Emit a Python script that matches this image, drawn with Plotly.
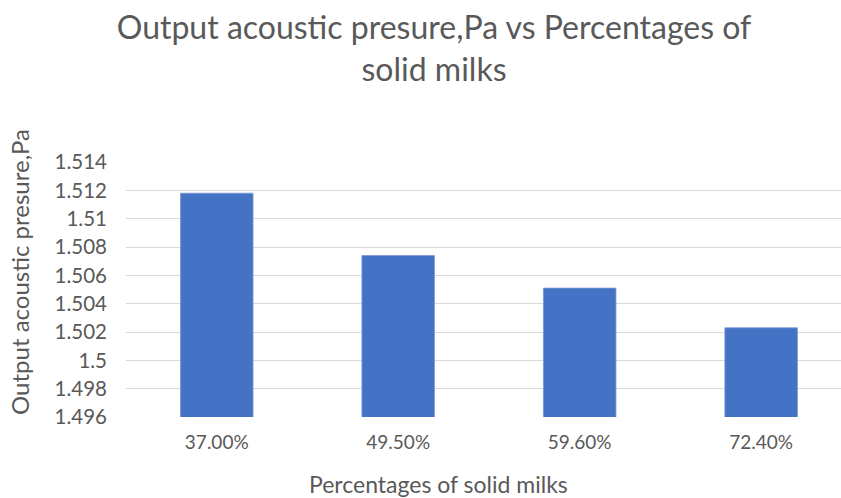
import plotly.graph_objects as go

# Solid-milk percentages and the measured output acoustic pressure (Pa)
categories = ["37.00%", "49.50%", "59.60%", "72.40%"]
pressure_pa = [1.5118, 1.5074, 1.5051, 1.5023]
y_ticks = [1.496, 1.498, 1.5, 1.502, 1.504, 1.506, 1.508, 1.51, 1.512, 1.514]
y_tick_text = ["1.496", "1.498", "1.5", "1.502", "1.504", "1.506", "1.508", "1.51", "1.512", "1.514"]

FONT = "Lato, 'Open Sans', sans-serif"
TEXT = "#595959"
W, H = 841, 498

fig = go.Figure(
    go.Bar(
        x=list(range(len(categories))),
        y=pressure_pa,
        width=0.4,
        marker=dict(color="#4472C4", line=dict(color="#7e9ad6", width=0.8)),
        hoverinfo="skip",
    )
)

fig.update_layout(
    width=W,
    height=H,
    margin=dict(l=126, r=0, t=162, b=81),
    paper_bgcolor="white",
    plot_bgcolor="white",
    showlegend=False,
    font=dict(family=FONT, color=TEXT),
    title=dict(
        text="Output acoustic presure,Pa vs Percentages of<br>solid milks",
        x=434 / W,
        xanchor="center",
        xref="container",
        y=1 - 39 / H,
        yanchor="middle",
        font=dict(family=FONT, size=32, color=TEXT),
    ),
    xaxis=dict(
        range=[-0.5, 3.44],
        tickmode="array",
        tickvals=list(range(len(categories))),
        ticktext=categories,
        showgrid=False,
        zeroline=False,
        showline=False,
        ticks="",
        ticklabelstandoff=12,
        tickfont=dict(family=FONT, size=19, color=TEXT),
        fixedrange=True,
    ),
    yaxis=dict(
        range=[1.496, 1.514],
        tickmode="array",
        tickvals=y_ticks,
        ticktext=y_tick_text,
        showgrid=True,
        gridcolor="#D9D9D9",
        gridwidth=1.2,
        zeroline=False,
        showline=False,
        ticks="",
        ticklabelstandoff=18,
        tickfont=dict(family=FONT, size=20.5, color=TEXT),
        fixedrange=True,
    ),
    annotations=[
        dict(
            text="Percentages of solid milks",
            xref="paper", yref="paper",
            x=(438 - 126) / (W - 126),
            y=-(484 - 416.7) / 254.4,
            xanchor="center", yanchor="middle",
            showarrow=False,
            font=dict(family=FONT, size=23, color=TEXT),
        ),
        dict(
            text="Output acoustic presure,Pa",
            xref="paper", yref="paper",
            x=-(126 - 20) / (W - 126),
            y=(416.7 - 272) / 254.4,
            xanchor="center", yanchor="middle",
            textangle=-90,
            showarrow=False,
            font=dict(family=FONT, size=24, color=TEXT),
        ),
    ],
)

fig.write_html("out.html")
